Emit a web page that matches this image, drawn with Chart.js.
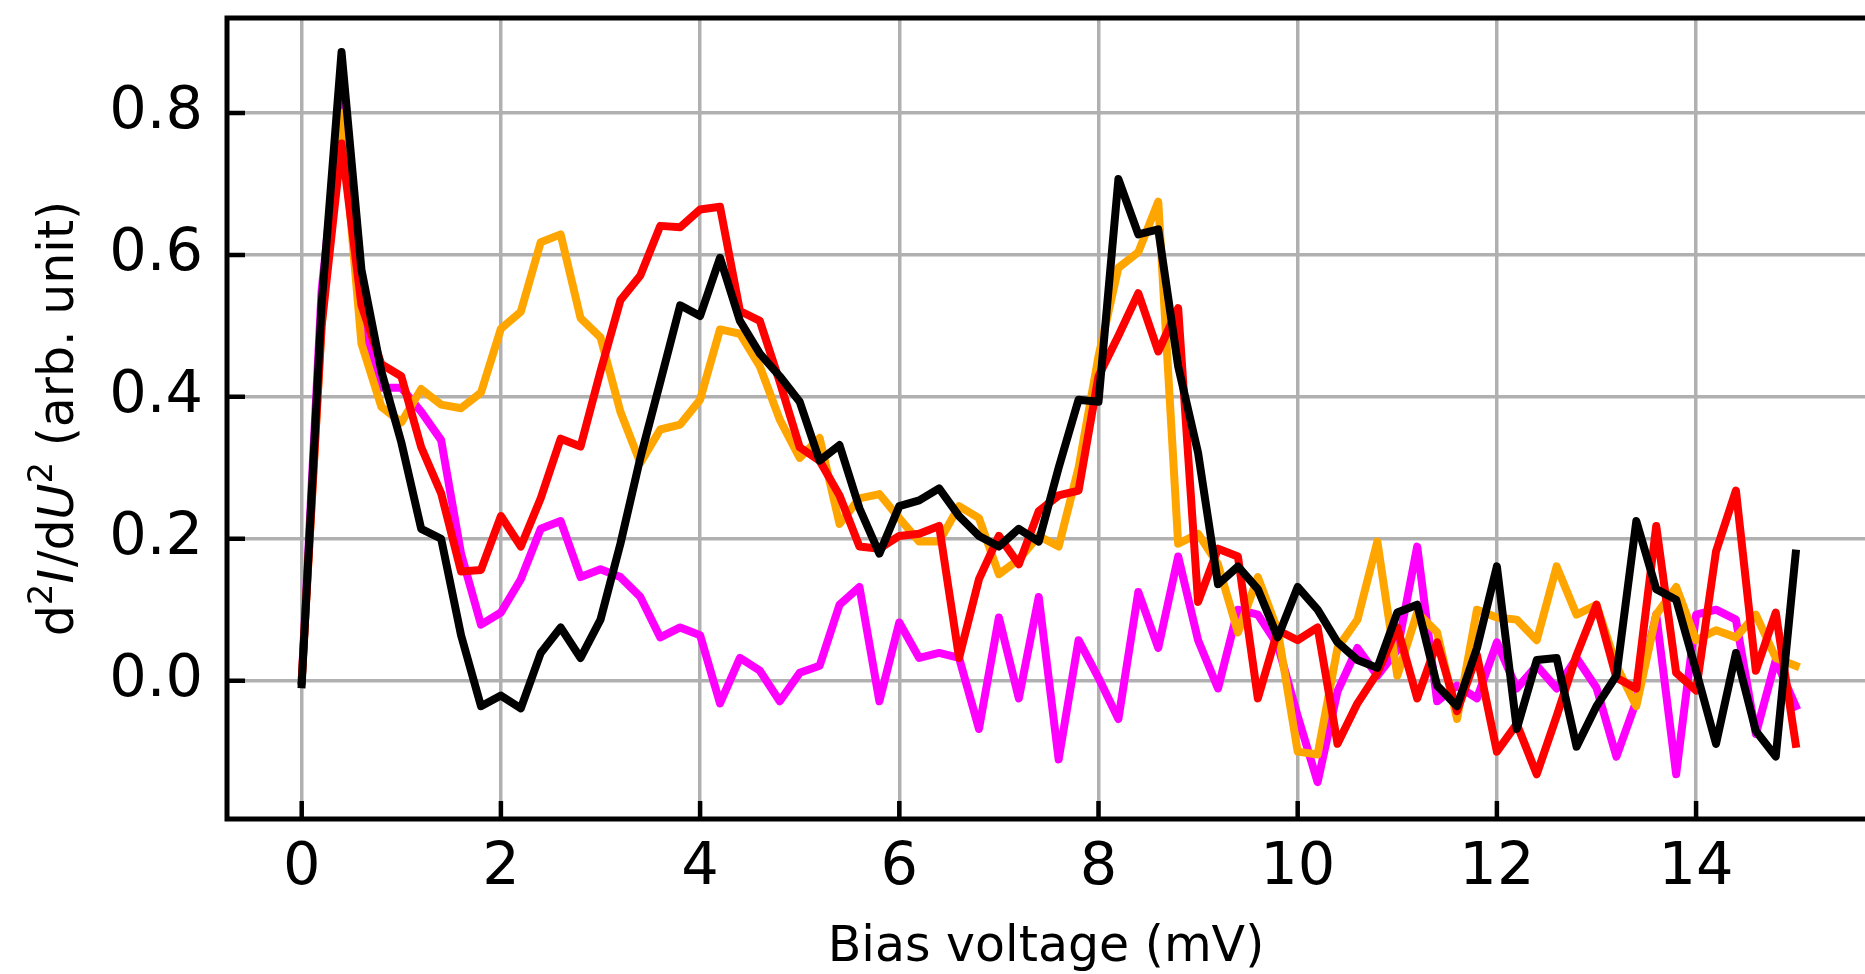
<!DOCTYPE html>
<html>
<head>
<meta charset="utf-8">
<script src="https://cdn.jsdelivr.net/npm/chart.js@4.4.0/dist/chart.umd.min.js"></script>
<style>
  html, body { margin: 0; padding: 0; background: #fff; }
  #wrap { width: 1865px; height: 974px; position: relative; }
</style>
</head>
<body>
<div id="wrap"><canvas id="spectra"></canvas></div>
<script>
// bias voltage grid (mV)
const bias = [
    0.0, 0.2, 0.4, 0.6, 0.8, 1.0, 1.2, 1.4, 1.6, 1.8,
    2.0, 2.2, 2.4, 2.6, 2.8, 3.0, 3.2, 3.4, 3.6, 3.8,
    4.0, 4.2, 4.4, 4.6, 4.8, 5.0, 5.2, 5.4, 5.6, 5.8,
    6.0, 6.2, 6.4, 6.6, 6.8, 7.0, 7.2, 7.4, 7.6, 7.8,
    8.0, 8.2, 8.4, 8.6, 8.8, 9.0, 9.2, 9.4, 9.6, 9.8,
    10.0, 10.2, 10.4, 10.6, 10.8, 11.0, 11.2, 11.4, 11.6, 11.8,
    12.0, 12.2, 12.4, 12.6, 12.8, 13.0, 13.2, 13.4, 13.6, 13.8,
    14.0, 14.2, 14.4, 14.6, 14.8, 15.0
];

const magentaCurve = [
    0.0, 0.55, 0.82, 0.50, 0.413, 0.413, 0.379, 0.339, 0.179, 0.079,
    0.096, 0.143, 0.214, 0.225, 0.146, 0.157, 0.146, 0.118, 0.061, 0.075,
    0.064, -0.032, 0.032, 0.014, -0.029, 0.011, 0.021, 0.107, 0.132, -0.029,
    0.082, 0.032, 0.039, 0.032, -0.068, 0.089, -0.025, 0.118, -0.111, 0.057,
    0.004, -0.054, 0.125, 0.046, 0.175, 0.057, -0.011, 0.100, 0.093, 0.050,
    -0.050, -0.143, -0.015, 0.046, 0.007, 0.043, 0.189, -0.029, -0.007, -0.025,
    0.054, -0.011, 0.021, -0.011, 0.032, -0.010, -0.107, -0.029, 0.093, -0.132,
    0.093, 0.100, 0.086, -0.075, 0.029, -0.036
];

const orangeCurve = [
    0.0, 0.50, 0.80, 0.475, 0.386, 0.364, 0.411, 0.389, 0.384, 0.406,
    0.496, 0.520, 0.618, 0.629, 0.511, 0.484, 0.379, 0.307, 0.354, 0.361,
    0.396, 0.495, 0.489, 0.443, 0.368, 0.314, 0.342, 0.221, 0.257, 0.263,
    0.229, 0.196, 0.196, 0.246, 0.229, 0.150, 0.171, 0.204, 0.189, 0.300,
    0.457, 0.582, 0.604, 0.675, 0.193, 0.207, 0.164, 0.068, 0.146, 0.071,
    -0.100, -0.104, 0.046, 0.086, 0.196, 0.007, 0.096, 0.068, -0.054, 0.100,
    0.089, 0.086, 0.057, 0.161, 0.093, 0.107, 0.021, -0.036, 0.093, 0.132,
    0.057, 0.071, 0.061, 0.093, 0.032, 0.021
];

const redCurve = [
    0.0, 0.50, 0.757, 0.529, 0.446, 0.429, 0.329, 0.264, 0.154, 0.156,
    0.232, 0.189, 0.257, 0.341, 0.330, 0.436, 0.536, 0.571, 0.641, 0.639,
    0.664, 0.668, 0.521, 0.507, 0.421, 0.329, 0.310, 0.261, 0.189, 0.186,
    0.204, 0.207, 0.218, 0.032, 0.143, 0.204, 0.164, 0.239, 0.261, 0.268,
    0.429, 0.486, 0.546, 0.464, 0.525, 0.111, 0.186, 0.175, -0.025, 0.071,
    0.057, 0.075, -0.089, -0.032, 0.011, 0.075, -0.025, 0.054, -0.043, 0.036,
    -0.100, -0.061, -0.132, -0.050, 0.036, 0.107, 0.004, -0.011, 0.218, 0.011,
    -0.014, 0.182, 0.268, 0.014, 0.096, -0.089
];

const blackCurve = [
    -0.005, 0.53, 0.886, 0.579, 0.436, 0.336, 0.214, 0.200, 0.064, -0.036,
    -0.021, -0.039, 0.039, 0.075, 0.032, 0.086, 0.193, 0.314, 0.421, 0.529,
    0.514, 0.596, 0.507, 0.461, 0.429, 0.393, 0.310, 0.332, 0.243, 0.179,
    0.246, 0.254, 0.271, 0.232, 0.204, 0.189, 0.214, 0.196, 0.300, 0.396,
    0.393, 0.707, 0.629, 0.636, 0.443, 0.321, 0.136, 0.161, 0.129, 0.061,
    0.132, 0.100, 0.054, 0.029, 0.018, 0.096, 0.107, -0.007, -0.036, 0.046,
    0.161, -0.068, 0.029, 0.032, -0.093, -0.036, 0.007, 0.225, 0.129, 0.114,
    0.014, -0.089, 0.039, -0.071, -0.107, 0.179
];

const xTicks = [0, 2, 4, 6, 8, 10, 12, 14];
const yTicks = [0.0, 0.2, 0.4, 0.6, 0.8];

const FONT = "'DejaVu Sans', 'Liberation Sans', sans-serif";

function series(values, color, order) {
    return {
        data: bias.map((b, i) => ({ x: b, y: values[i] })),
        borderColor: color,
        backgroundColor: color,
        borderWidth: 8,
        borderJoinStyle: 'round',
        borderCapStyle: 'square',
        pointRadius: 0,
        fill: false,
        tension: 0,
        order: order
    };
}

// frame (left, bottom, top), inward ticks and the y label with super/italics
const frame = {
    id: 'frame',
    afterDatasetsDraw(chart) {
        const { ctx, chartArea: a, scales } = chart;
        ctx.save();
        ctx.strokeStyle = '#000';
        ctx.lineWidth = 5;
        ctx.lineCap = 'square';
        ctx.beginPath();
        ctx.moveTo(a.right + 5, a.top);
        ctx.lineTo(a.left, a.top);
        ctx.lineTo(a.left, a.bottom);
        ctx.lineTo(a.right + 5, a.bottom);
        ctx.stroke();

        ctx.lineWidth = 4.5;
        ctx.lineCap = 'butt';
        ctx.beginPath();
        xTicks.forEach(v => {
            const px = scales.x.getPixelForValue(v);
            ctx.moveTo(px, a.bottom);
            ctx.lineTo(px, a.bottom - 18);
        });
        yTicks.forEach(v => {
            const py = scales.y.getPixelForValue(v);
            ctx.moveTo(a.left, py);
            ctx.lineTo(a.left + 18, py);
        });
        ctx.stroke();
        ctx.restore();
    },
    afterDraw(chart) {
        const { ctx, chartArea: a } = chart;
        const size = 49;
        const sup = Math.round(size * 0.7);
        const parts = [
            { t: 'd', f: `${size}px ${FONT}`, dy: 0 },
            { t: '2', f: `${sup}px ${FONT}`, dy: -0.42 * size },
            { t: 'I', f: `italic ${size}px ${FONT}`, dy: 0, pad: 2 },
            { t: '/d', f: `${size}px ${FONT}`, dy: 0 },
            { t: 'U', f: `italic ${size}px ${FONT}`, dy: 0 },
            { t: '2', f: `${sup}px ${FONT}`, dy: -0.42 * size },
            { t: ' (arb. unit)', f: `${size}px ${FONT}`, dy: 0 }
        ];
        ctx.save();
        let total = 0;
        parts.forEach(p => {
            ctx.font = p.f;
            p.w = ctx.measureText(p.t).width + (p.pad || 0);
            total += p.w;
        });
        ctx.translate(73, (a.top + a.bottom) / 2);
        ctx.rotate(-Math.PI / 2);
        ctx.fillStyle = '#000';
        ctx.textBaseline = 'alphabetic';
        ctx.textAlign = 'left';
        let x = -total / 2;
        parts.forEach(p => {
            ctx.font = p.f;
            ctx.fillText(p.t, x, p.dy);
            x += p.w;
        });
        ctx.restore();
    }
};

Chart.defaults.font.family = FONT;
Chart.defaults.color = '#000';

new Chart(document.getElementById('spectra').getContext('2d'), {
    type: 'line',
    data: {
        datasets: [
            series(magentaCurve, '#ff00ff', 3),
            series(orangeCurve, '#ffa500', 2),
            series(redCurve, '#ff0000', 1),
            series(blackCurve, '#000000', 0)
        ]
    },
    options: {
        responsive: true,
        maintainAspectRatio: false,
        animation: false,
        events: [],
        layout: { padding: { top: 18, right: 0, bottom: 0, left: 0 } },
        plugins: {
            legend: { display: false },
            tooltip: { enabled: false }
        },
        scales: {
            x: {
                type: 'linear',
                min: -0.75,
                max: 15.696,
                afterBuildTicks: s => { s.ticks = xTicks.map(v => ({ value: v })); },
                afterFit: s => { s.height = 155; s.paddingLeft = 0; s.paddingRight = 0; },
                border: { display: false },
                grid: { color: '#b0b0b0', lineWidth: 3.5, drawTicks: false },
                ticks: {
                    padding: 14,
                    maxRotation: 0,
                    font: { size: 59 },
                    callback: v => String(v)
                },
                title: {
                    display: true,
                    text: 'Bias voltage (mV)',
                    font: { size: 49 },
                    padding: { top: 0, bottom: -4 }
                }
            },
            y: {
                type: 'linear',
                min: -0.195,
                max: 0.934,
                afterBuildTicks: s => { s.ticks = yTicks.map(v => ({ value: v })); },
                afterFit: s => { s.width = 227; s.paddingTop = 0; s.paddingBottom = 0; },
                border: { display: false },
                grid: { color: '#b0b0b0', lineWidth: 3.5, drawTicks: false },
                ticks: {
                    padding: 24,
                    font: { size: 59 },
                    callback: v => v.toFixed(1)
                }
            }
        }
    },
    plugins: [frame]
});
</script>
</body>
</html>
